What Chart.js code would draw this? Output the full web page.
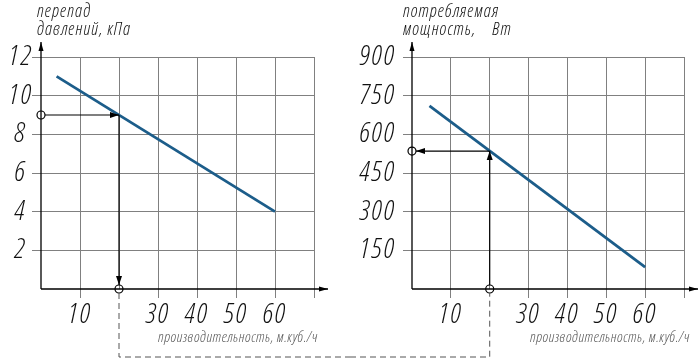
<!DOCTYPE html>
<html><head><meta charset="utf-8">
<script src="https://cdn.jsdelivr.net/npm/chart.js@4/dist/chart.umd.min.js"></script>
<style>
html,body{margin:0;padding:0;background:#fff;}
#wrap{position:relative;width:700px;height:359px;overflow:hidden;background:#fff;}
canvas{position:absolute;top:0;}
#c1{left:0}#c2{left:350px}
</style></head><body>
<div id="wrap"><canvas id="c1" width="350" height="359"></canvas><canvas id="c2" width="350" height="359"></canvas></div>
<script>
// ---- data ----
const flowLeft = [4, 60];
const pressureDrop = [11, 4];
const flowRight = [4.5, 60];
const powerUse = [710, 85];
const markerFlow = 20;
const markerPressure = 9;
const markerPower = 535;
const xTickValues = [0, 10, 20, 30, 40, 50, 60, 70];
const xTickLabels = ['', '10', '', '30', '40', '50', '60', ''];
const leftYTickValues = [0, 2, 4, 6, 8, 10, 12];
const leftYTickLabels = ['', '2', '4', '6', '8', '10', '12'];
const rightYTickValues = [0, 150, 300, 450, 600, 750, 900];
const rightYTickLabels = ['', '150', '300', '450', '600', '750', '900'];
const leftTitle = ['перепад', 'давлений, кПа'];
const rightTitle = ['потребляемая', 'мощность,    Вт'];
const xTitle = 'производительность, м.куб./ч';

const FONT = "'Open Sans', 'DejaVu Sans Condensed', sans-serif";
const LINE_COLOR = '#1c5d8a';
const GRID = '#808080';

function head(ctx, tx, ty, dx, dy, len, half) {
  len = len || 9; half = half || 3;
  const bx = tx - dx * len, by = ty - dy * len;
  ctx.beginPath();
  ctx.moveTo(tx, ty);
  ctx.lineTo(bx - dy * half, by + dx * half);
  ctx.lineTo(bx + dy * half, by - dx * half);
  ctx.closePath();
  ctx.fill();
}
function circle(ctx, x, y, r) {
  ctx.beginPath(); ctx.arc(x, y, r, 0, Math.PI * 2); ctx.stroke();
}

function makeChart(id, side, xs, ys, yMax, yVals, yLabels, markerY, titles, yWidth, padRight, yLabelAlign, yPad) {
  const annot = {
    id: 'annot' + side,
    beforeUpdate(chart) { chart.ctx.letterSpacing = '2px'; },
    beforeDraw(chart) { chart.ctx.letterSpacing = '2px'; },
    afterDraw(chart) {
      const ctx = chart.ctx;
      const a = chart.chartArea;
      const sx = chart.scales.x, sy = chart.scales.y;
      const mx = sx.getPixelForValue(markerFlow);
      const my = sy.getPixelForValue(markerY);
      const r = 4;
      ctx.save();
      ctx.strokeStyle = '#000'; ctx.fillStyle = '#000'; ctx.lineWidth = 1.3;
      // axes
      ctx.beginPath();
      ctx.moveTo(a.left, a.bottom); ctx.lineTo(a.left, a.top - 15);
      ctx.moveTo(a.left, a.bottom); ctx.lineTo(a.right + 14, a.bottom);
      ctx.stroke();
      head(ctx, a.left, a.top - 15, 0, -1, 9, 2.5);
      head(ctx, a.right + 14, a.bottom, 1, 0, 9, 2.5);
      // marker arrows
      ctx.lineWidth = 1.2;
      circle(ctx, a.left, my, r);
      circle(ctx, mx, a.bottom, r);
      ctx.beginPath();
      if (side === 'left') {
        ctx.moveTo(a.left + r, my); ctx.lineTo(mx, my);
        ctx.moveTo(mx, my); ctx.lineTo(mx, a.bottom - r);
        ctx.stroke();
        head(ctx, mx, my, 1, 0, 9, 3);
        head(ctx, mx, a.bottom - r, 0, 1, 9, 3);
      } else {
        ctx.moveTo(mx, a.bottom - r); ctx.lineTo(mx, my);
        ctx.moveTo(mx, my); ctx.lineTo(a.left + r, my);
        ctx.stroke();
        head(ctx, mx, my, 0, -1, 9, 3);
        head(ctx, a.left + r, my, -1, 0, 9, 3);
      }
      // dashed connector
      ctx.strokeStyle = '#555'; ctx.lineWidth = 1;
      ctx.setLineDash([6, 4]);
      ctx.beginPath();
      const yb = 357;
      if (side === 'left') {
        ctx.moveTo(mx, a.bottom + r); ctx.lineTo(mx, yb); ctx.lineTo(chart.width, yb);
      } else {
        ctx.moveTo(0, yb); ctx.lineTo(mx, yb); ctx.lineTo(mx, a.bottom + r);
      }
      ctx.stroke();
      ctx.setLineDash([]);
      // titles
      ctx.fillStyle = '#111';
      ctx.font = 'italic 300 condensed 18px ' + FONT;
      ctx.letterSpacing = '1px';
      ctx.textAlign = 'left'; ctx.textBaseline = 'alphabetic';
      const tx = side === 'left' ? a.left - 4 : a.left - 9;
      ctx.fillText(titles[0], tx, 17);
      ctx.fillText(titles[1], tx, 35);
      ctx.fillStyle = '#555';
      ctx.font = 'italic 300 condensed 15px ' + FONT;
      ctx.letterSpacing = '0.5px';
      ctx.textAlign = 'left';
      const w = ctx.measureText(xTitle).width;
      ctx.fillText(xTitle, a.right + (side === 'left' ? 4 : 6) - w, 342);
      ctx.restore();
    }
  };
  const hideAt = (vals) => (c) => (vals.includes(c.tick && c.tick.value) ? 'rgba(0,0,0,0)' : GRID);
  const tickFont = { family: FONT, size: 28, style: 'italic', weight: '300 condensed' };
  return new Chart(document.getElementById(id), {
    type: 'line',
    data: { datasets: [{ data: xs.map((x, i) => ({ x: x, y: ys[i] })), borderColor: LINE_COLOR, borderWidth: 2.8, pointRadius: 0, tension: 0 }] },
    options: {
      responsive: false, animation: false, devicePixelRatio: 1,
      layout: { padding: { top: 57, right: padRight, bottom: 0, left: 0 } },
      plugins: { legend: { display: false }, tooltip: { enabled: false } },
      scales: {
        x: {
          type: 'linear', min: 0, max: 70,
          afterBuildTicks: (s) => { s.ticks = xTickValues.map(v => ({ value: v })); },
          afterFit: (s) => { s.height = 70; },
          border: { display: false },
          grid: { color: hideAt([0]), tickColor: hideAt([0, markerFlow]), tickLength: 9, lineWidth: 1 },
          ticks: { autoSkip: false, maxRotation: 0, padding: 0, color: '#111', font: tickFont,
            callback: (v) => xTickLabels[xTickValues.indexOf(v)] }
        },
        y: {
          type: 'linear', min: 0, max: yMax,
          afterBuildTicks: (s) => { s.ticks = yVals.map(v => ({ value: v })); },
          afterFit: (s) => { s.width = yWidth; },
          border: { display: false },
          grid: { color: hideAt([0]), tickColor: hideAt([0]), tickLength: 9, lineWidth: 1 },
          ticks: { autoSkip: false, padding: yPad, color: '#111', crossAlign: yLabelAlign, font: tickFont,
            callback: (v) => yLabels[yVals.indexOf(v)] }
        }
      }
    },
    plugins: [annot]
  });
}

makeChart('c1', 'left', flowLeft, pressureDrop, 12, leftYTickValues, leftYTickLabels, markerPressure, leftTitle, 41, 36, 'center', -1);
makeChart('c2', 'right', flowRight, powerUse, 900, rightYTickValues, rightYTickLabels, markerPower, rightTitle, 62, 16, 'near', 7);
</script></body></html>
